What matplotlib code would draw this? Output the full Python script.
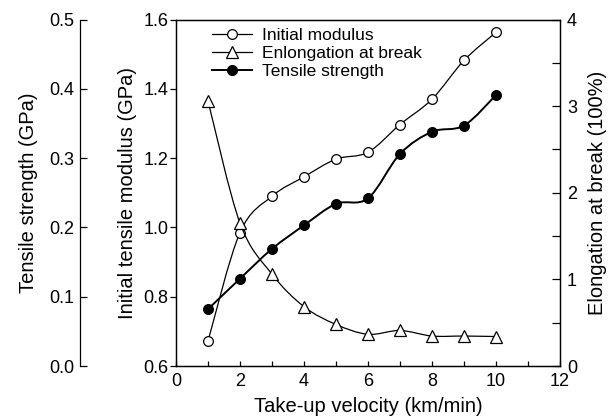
import matplotlib
matplotlib.use('Agg')
import matplotlib.pyplot as plt
from matplotlib.lines import Line2D
from matplotlib.patches import PathPatch
from matplotlib.path import Path
from matplotlib.ticker import MultipleLocator, FormatStrFormatter

plt.rcParams['font.family'] = ['Liberation Sans', 'DejaVu Sans']
plt.rcParams['font.size'] = 13

velocity = [1, 2, 3, 4, 5, 6, 7, 8, 9, 10]
modulus = [0.672, 0.985, 1.090, 1.146, 1.197, 1.217, 1.297, 1.370, 1.482, 1.563]
elongation = [3.06, 1.65, 1.06, 0.685, 0.48, 0.366, 0.41, 0.346, 0.346, 0.34]
strength = [0.082, 0.126, 0.169, 0.203, 0.234, 0.242, 0.306, 0.338, 0.347, 0.391]


def smooth_path(xs, ys, tension=6.0):
    # Catmull-Rom style bezier through the measured points (drawing only)
    verts = [(xs[0], ys[0])]
    codes = [Path.MOVETO]
    n = len(xs)
    for i in range(n - 1):
        x0, y0 = (xs[i - 1], ys[i - 1]) if i > 0 else (xs[i], ys[i])
        x1, y1 = xs[i], ys[i]
        x2, y2 = xs[i + 1], ys[i + 1]
        x3, y3 = (xs[i + 2], ys[i + 2]) if i + 2 < n else (x2, y2)
        c1 = (x1 + (x2 - x0) / tension, y1 + (y2 - y0) / tension)
        c2 = (x2 - (x3 - x1) / tension, y2 - (y3 - y1) / tension)
        verts += [c1, c2, (x2, y2)]
        codes += [Path.CURVE4] * 3
    return Path(verts, codes)


def draw_series(a, xs, ys, marker, mfc, lw, ms):
    a.add_patch(PathPatch(smooth_path(xs, ys), fill=False, edgecolor='black', lw=lw))
    a.plot(xs, ys, linestyle='none', marker=marker, mfc=mfc, mec='black',
           ms=ms, mew=0.9)


def main():
    fig = plt.figure(figsize=(6.1, 4.18), dpi=100)
    ax = fig.add_axes([0.2885, 0.1244, 0.6295, 0.8289])
    ax2 = ax.twinx()
    ax3 = ax.twinx()

    draw_series(ax, velocity, modulus, 'o', 'white', 0.9, 7)
    draw_series(ax2, velocity, elongation, '^', 'white', 0.9, 8)
    draw_series(ax3, velocity, strength, 'o', 'black', 1.4, 7)

    # main axis
    ax.set_xlim(0, 12)
    ax.set_ylim(0.6, 1.6)
    ax.xaxis.set_major_locator(MultipleLocator(2))
    ax.xaxis.set_minor_locator(MultipleLocator(1))
    ax.yaxis.set_major_locator(MultipleLocator(0.2))
    ax.yaxis.set_major_formatter(FormatStrFormatter('%.1f'))
    ax.tick_params(axis='x', which='both', direction='in', length=3.6, width=0.9, top=False, pad=5)
    ax.tick_params(axis='y', which='both', direction='out', length=4.3, width=0.9, pad=1)
    ax.set_xlabel('Take-up velocity (km/min)', fontsize=14.5, labelpad=5)
    ax.set_ylabel('Initial tensile modulus (GPa)', fontsize=14.5, labelpad=5)

    # right axis
    ax2.set_ylim(0, 4)
    ax2.yaxis.set_major_locator(MultipleLocator(1))
    ax2.yaxis.set_minor_locator(MultipleLocator(0.5))
    ax2.tick_params(axis='y', which='both', direction='in', length=6, width=0.9, pad=5)
    ax2.set_ylabel('Elongation at break (100%)', fontsize=14.5, labelpad=8)

    # far left axis
    ax3.set_ylim(0, 0.5)
    ax3.spines['left'].set_position(('outward', 69))
    ax3.spines['left'].set_visible(True)
    ax3.spines['right'].set_visible(False)
    ax3.spines['top'].set_visible(False)
    ax3.spines['bottom'].set_visible(False)
    ax3.yaxis.set_label_position('left')
    ax3.yaxis.set_ticks_position('left')
    ax3.yaxis.set_major_locator(MultipleLocator(0.1))
    ax3.yaxis.set_major_formatter(FormatStrFormatter('%.1f'))
    ax3.tick_params(axis='y', direction='in', length=5, width=0.9, pad=4)
    ax3.set_ylabel('Tensile strength (GPa)', fontsize=14.5, labelpad=8)

    for a in (ax, ax2, ax3):
        for s in a.spines.values():
            s.set_linewidth(0.9)

    handles = [
        Line2D([], [], color='black', lw=0.9, marker='o', mfc='white', mec='black',
               ms=7, mew=0.9, label='Initial modulus'),
        Line2D([], [], color='black', lw=0.9, marker='^', mfc='white', mec='black',
               ms=8, mew=0.9, label='Enlongation at break'),
        Line2D([], [], color='black', lw=1.4, marker='o', mfc='black', mec='black',
               ms=7, label='Tensile strength'),
    ]
    ax.legend(handles=handles, loc='upper left', frameon=False,
              bbox_to_anchor=(0.094, 0.975), borderaxespad=0, borderpad=0,
              handlelength=2.3, handletextpad=0.55, labelspacing=0.15,
              fontsize=12.5)

    fig.savefig('out.png', dpi=100)
    plt.close(fig)


if __name__ == "__main__":
    main()
